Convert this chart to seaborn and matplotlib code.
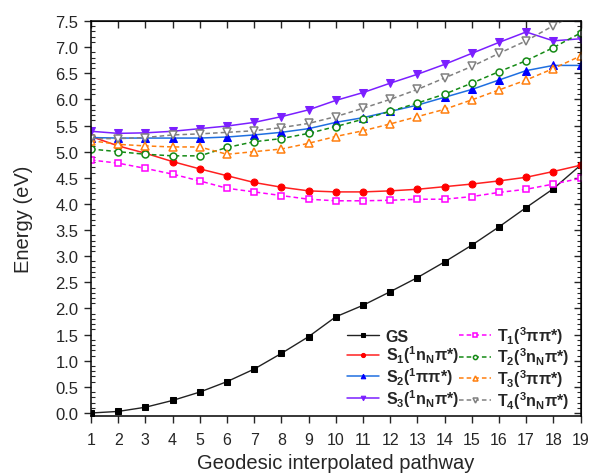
import numpy as np
import pandas as pd
import matplotlib
matplotlib.use("Agg")
import matplotlib.pyplot as plt
from matplotlib.ticker import MultipleLocator, FormatStrFormatter
import seaborn as sns

# ---- data ----
steps = list(range(1, 20))
gs = [0.00, 0.03, 0.11, 0.24, 0.40, 0.60, 0.84, 1.14, 1.46, 1.84,
      2.06, 2.32, 2.59, 2.89, 3.21, 3.56, 3.93, 4.29, 4.74]
s1 = [5.29, 5.11, 4.97, 4.81, 4.67, 4.54, 4.41, 4.32, 4.25, 4.23,
      4.23, 4.25, 4.28, 4.33, 4.38, 4.44, 4.51, 4.62, 4.74]
s2 = [5.27, 5.26, 5.26, 5.26, 5.26, 5.28, 5.32, 5.37, 5.44, 5.56,
      5.65, 5.77, 5.89, 6.04, 6.19, 6.37, 6.55, 6.65, 6.65]
s3 = [5.39, 5.35, 5.36, 5.39, 5.44, 5.49, 5.56, 5.67, 5.80, 5.98,
      6.13, 6.31, 6.48, 6.67, 6.88, 7.09, 7.29, 7.12, 7.16]
t1 = [4.84, 4.78, 4.68, 4.57, 4.44, 4.30, 4.23, 4.16, 4.09, 4.06,
      4.06, 4.07, 4.09, 4.09, 4.14, 4.22, 4.28, 4.38, 4.49]
t2 = [5.05, 5.00, 4.95, 4.92, 4.92, 5.08, 5.19, 5.25, 5.35, 5.48,
      5.62, 5.77, 5.93, 6.10, 6.31, 6.53, 6.74, 6.99, 7.27]
t3 = [5.21, 5.14, 5.11, 5.09, 5.09, 4.95, 5.00, 5.05, 5.16, 5.29,
      5.40, 5.53, 5.67, 5.81, 5.99, 6.18, 6.37, 6.59, 6.83]
t4 = [5.25, 5.25, 5.27, 5.32, 5.34, 5.37, 5.40, 5.46, 5.54, 5.67,
      5.83, 6.00, 6.19, 6.41, 6.63, 6.88, 7.12, 7.41, 7.68]

labels = [
    "GS",
    r"S$_1$($^1$n$_N$π*)",
    r"S$_2$($^1$ππ*)",
    r"S$_3$($^1$n$_N$π*)",
    r"T$_1$($^3$ππ*)",
    r"T$_2$($^3$n$_N$π*)",
    r"T$_3$($^3$ππ*)",
    r"T$_4$($^3$n$_N$π*)",
]
xticks = list(range(1, 20))
yticks = [0.0, 0.5, 1.0, 1.5, 2.0, 2.5, 3.0, 3.5, 4.0, 4.5, 5.0, 5.5, 6.0, 6.5, 7.0, 7.5]

series = [gs, s1, s2, s3, t1, t2, t3, t4]

# ---- style ----
sns.set_style("ticks")
plt.rcParams["font.family"] = ["Liberation Sans", "DejaVu Sans"]
plt.rcParams["mathtext.fontset"] = "custom"
plt.rcParams["mathtext.rm"] = "Liberation Sans"
plt.rcParams["mathtext.bf"] = "Liberation Sans:bold"
plt.rcParams["mathtext.default"] = "bf"

dash = (0, (3, 2))
styles = [
    dict(color="#222222", marker="s", mfc="#000000", mec="#000000", ms=5, ls="-", lw=1.0),
    dict(color="#ff2020", marker="o", mfc="#ff0000", mec="#ff0000", ms=5, ls="-", lw=1.1),
    dict(color="#1f6fe0", marker="^", mfc="#0000ff", mec="#0000ff", ms=5.5, ls="-", lw=1.1),
    dict(color="#7b1fff", marker="v", mfc="#7b1fff", mec="#7b1fff", ms=5.5, ls="-", lw=1.1),
    dict(color="#ff00ff", marker="s", mfc="white", mec="#ff00ff", ms=4.5, ls=dash, lw=1.1, mew=1.1),
    dict(color="#158a15", marker="o", mfc="white", mec="#158a15", ms=5, ls=dash, lw=1.1, mew=1.1),
    dict(color="#ff7f0e", marker="^", mfc="white", mec="#ff7f0e", ms=6, ls=dash, lw=1.1, mew=1.1),
    dict(color="#808080", marker="v", mfc="white", mec="#808080", ms=6, ls=dash, lw=1.1, mew=1.1),
]

fig = plt.figure(figsize=(5.9, 4.77), dpi=100)
ax = fig.add_axes([0.1542, 0.1266, 0.8297, 0.8273])

for vals, lab, st in zip(series, labels, styles):
    df = pd.DataFrame({"step": steps, "E": vals})
    sns.lineplot(data=df, x="step", y="E", ax=ax, label=lab, **st)

ax.set_xlim(1, 19)
ax.set_ylim(-0.05, 7.5)
ax.set_xticks(xticks)
ax.set_yticks(yticks)
ax.yaxis.set_major_formatter(FormatStrFormatter("%.1f"))
ax.yaxis.set_minor_locator(MultipleLocator(0.1))
ax.tick_params(axis="x", which="major", direction="out", length=5, width=1, labelsize=11.5, pad=7, bottom=True, top=False)
ax.tick_params(axis="y", which="major", direction="out", length=5, width=1, labelsize=12, pad=4, left=True, right=False)
ax.tick_params(axis="y", which="minor", direction="in", length=3, width=0.8, left=True, right=False)
for sp in ax.spines.values():
    sp.set_linewidth(1.1)
    sp.set_color("black")

# top and right axes with inward ticks
sec_x = ax.secondary_xaxis("top")
sec_x.set_xticks(xticks)
sec_x.tick_params(axis="x", direction="in", length=5, width=1, labeltop=False)
sec_y = ax.secondary_yaxis("right")
sec_y.set_yticks(yticks)
sec_y.yaxis.set_minor_locator(MultipleLocator(0.1))
sec_y.tick_params(axis="y", which="major", direction="in", length=5, width=1, labelright=False)
sec_y.tick_params(axis="y", which="minor", direction="in", length=3, width=0.8)

ax.set_xlabel("Geodesic interpolated pathway", fontsize=14.5, labelpad=4)
ax.set_ylabel("Energy (eV)", fontsize=14.5, labelpad=16)

leg = ax.legend(loc="lower right", bbox_to_anchor=(0.997, -0.012), ncol=2, frameon=False,
                prop={"weight": "bold", "size": 11.5}, handlelength=2.0, handletextpad=0.4,
                columnspacing=0.0, labelspacing=0.0, borderaxespad=0.2, markerscale=0.6)

fig.savefig("out.png", dpi=100)
